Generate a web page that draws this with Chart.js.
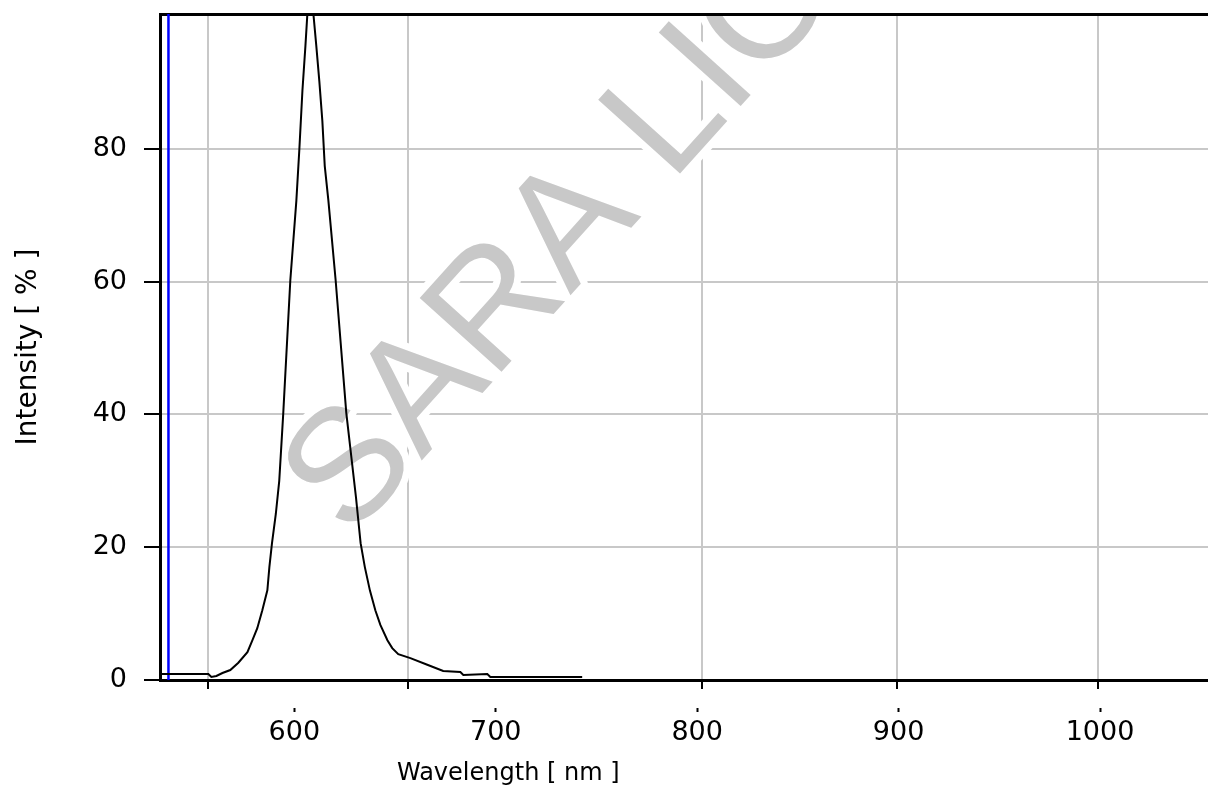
<!DOCTYPE html>
<html>
<head>
<meta charset="utf-8">
<script src="https://cdn.jsdelivr.net/npm/chart.js@4.4.0/dist/chart.umd.min.js"></script>
<style>
  html, body { margin: 0; padding: 0; background: #fff; }
  #wrap { width: 1208px; height: 787px; position: relative; }
</style>
</head>
<body>
<div id="wrap"><canvas id="spectrum"></canvas></div>
<script>
// spectrum trace
const wavelength = [533.3, 557.3, 558.8, 561.3, 564.3, 568.2, 572.2, 576.7, 579.2, 581.6, 584.1, 586.6, 587.6, 588.9,
  590.8, 592.5, 594.5, 598.0, 601.0, 602.5, 604.0, 605.5, 606.5, 608.0, 609.4, 610.9, 612.4, 613.9, 615.1, 616.9,
  620.5, 625.8, 630.6, 632.9, 635.0, 637.5, 640.2, 642.7, 646.2, 648.6, 651.6, 657.6, 666.0, 673.9, 682.4, 683.9,
  695.8, 697.3, 742.9];
const intensity = [0.9, 0.9, 0.45, 0.6, 1.05, 1.5, 2.6, 4.2, 6.0, 7.8, 10.5, 13.5, 17.0, 20.6,
  25.0, 30.0, 40.2, 60.2, 72.2, 80.0, 88.7, 95.5, 100.5, 103, 100.5, 95.5, 90.2, 84.2, 77.4, 72.2,
  60.2, 40.2, 27.5, 20.6, 17.0, 13.5, 10.5, 8.3, 6.0, 4.8, 3.9, 3.3, 2.3, 1.35, 1.2, 0.75,
  0.9, 0.45, 0.45];

// blue marker line
const markerWavelength = [537.5, 537.5];
const markerIntensity = [0, 100.3];

// axes
const gridWavelengths = [557.3, 656.6, 802.5, 899.3, 999];
const labelWavelengths = [600, 700, 800, 900, 1000];
const intensityTicks = [0, 20, 40, 60, 80];
const xMin = 533.3, xMax = 1053.6;
const yMin = 0, yMax = 100.3;
const xTitle = 'Wavelength [ nm ]';
const xTitleAt = 706.2;
const yTitle = 'Intensity [ % ]';
const watermark = 'SARA LIOU';

const FONT = "'DejaVu Sans', sans-serif";

const xTitlePlugin = {
  id: 'xTitle',
  afterDraw(chart) {
    const ctx = chart.ctx;
    const xs = chart.scales.x;
    ctx.save();
    ctx.fillStyle = '#000';
    ctx.font = '24px ' + FONT;
    ctx.textAlign = 'center';
    ctx.textBaseline = 'alphabetic';
    ctx.fillText(xTitle, xs.getPixelForValue(xTitleAt), 780);
    ctx.restore();
  }
};

// diagonal grey watermark, under the trace
const watermarkPlugin = {
  id: 'watermark',
  beforeDatasetsDraw(chart) {
    const ctx = chart.ctx;
    const a = chart.chartArea;
    ctx.save();
    ctx.beginPath();
    ctx.rect(a.left + 2, a.top + 2, a.right - a.left, a.bottom - a.top - 4);
    ctx.clip();
    ctx.translate(350, 540);
    ctx.rotate(-48 * Math.PI / 180);
    ctx.font = "160px 'Liberation Sans', Arial, sans-serif";
    ctx.textAlign = 'left';
    ctx.textBaseline = 'alphabetic';
    ctx.lineJoin = 'round';
    ctx.strokeStyle = '#fff';
    ctx.lineWidth = 14;
    ctx.strokeText(watermark, 0, 0);
    ctx.fillStyle = '#c8c8c8';
    ctx.fillText(watermark, 0, 0);
    ctx.restore();
  }
};

const ctx = document.getElementById('spectrum').getContext('2d');
new Chart(ctx, {
  type: 'line',
  data: {
    datasets: [{
      data: wavelength.map((w, i) => ({ x: w, y: intensity[i] })),
      borderColor: '#000',
      borderWidth: 2,
      pointRadius: 0,
      fill: false,
      tension: 0
    }, {
      data: markerWavelength.map((w, i) => ({ x: w, y: markerIntensity[i] })),
      borderColor: '#0000ff',
      borderWidth: 2.5,
      pointRadius: 0,
      fill: false
    }]
  },
  options: {
    responsive: true,
    maintainAspectRatio: false,
    animation: false,
    layout: { padding: { top: 14, right: 0, bottom: 0, left: 0 } },
    plugins: {
      legend: { display: false },
      tooltip: { enabled: false }
    },
    scales: {
      x: {
        type: 'linear',
        position: 'bottom',
        min: xMin,
        max: xMax,
        afterBuildTicks: s => { s.ticks = gridWavelengths.map(v => ({ value: v })); },
        ticks: { display: false },
        grid: { color: '#c8c8c8', lineWidth: 2, tickLength: 9, tickColor: '#000', tickWidth: 2 },
        border: { color: '#000', width: 3 },
        afterFit: s => { s.height = 9; }
      },
      xLabels: {
        type: 'linear',
        position: 'bottom',
        min: xMin,
        max: xMax,
        afterBuildTicks: s => { s.ticks = labelWavelengths.map(v => ({ value: v })); },
        ticks: {
          color: '#000',
          font: { family: FONT, size: 27 },
          padding: 5,
          maxRotation: 0,
          autoSkip: false,
          callback: v => String(v)
        },
        grid: { drawOnChartArea: false, tickLength: 23, tickColor: '#000', tickWidth: 2, tickBorderDash: [0, 19, 4, 100] },
        border: { display: false },
        afterFit: s => { s.height = 98; }
      },
      xTop: {
        type: 'linear',
        position: 'top',
        min: xMin,
        max: xMax,
        ticks: { display: false },
        grid: { drawOnChartArea: false, drawTicks: false },
        border: { color: '#000', width: 3 },
        afterFit: s => { s.height = 0; }
      },
      y: {
        min: yMin,
        max: yMax,
        afterBuildTicks: s => { s.ticks = intensityTicks.map(v => ({ value: v })); },
        ticks: { color: '#000', font: { family: FONT, size: 27 }, padding: 17 },
        grid: { color: '#c8c8c8', lineWidth: 2, tickLength: 16, tickColor: '#000', tickWidth: 2 },
        border: { color: '#000', width: 3 },
        title: {
          display: true,
          text: yTitle,
          color: '#000',
          font: { family: FONT, size: 28 },
          padding: { top: 12, bottom: 0 }
        },
        afterFit: s => { s.width = 160; s.paddingTop = 0; s.paddingBottom = 0; }
      }
    }
  },
  plugins: [watermarkPlugin, xTitlePlugin]
});
</script>
</body>
</html>
